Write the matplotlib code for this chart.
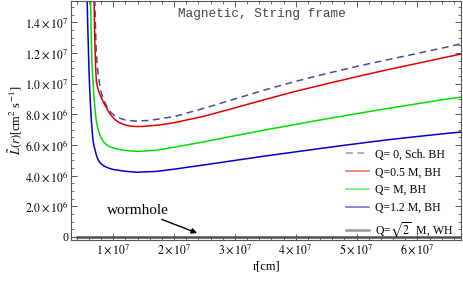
import numpy as np
import matplotlib
matplotlib.use('Agg')
import matplotlib.pyplot as plt
from matplotlib.ticker import MultipleLocator

plt.rcParams['font.family'] = ['Liberation Serif', 'DejaVu Serif']
plt.rcParams['mathtext.fontset'] = 'stix'

# r in units of 1e7 cm, L in units of 1e6 cm^2 s^-1
r_sch = [0.697, 0.705, 0.72, 0.735, 0.75, 0.77, 0.79, 0.82, 0.852, 0.9, 0.967, 1.03,
         1.1, 1.2, 1.35, 1.6, 2.0, 2.5, 3.0, 3.5, 4.0, 4.5, 5.0, 5.5, 6.0, 6.5, 6.72]
L_sch = [15.6, 14.0, 12.2, 11.2, 10.7, 10.1, 9.6, 9.2, 8.85, 8.45, 8.1, 7.88,
         7.75, 7.63, 7.56, 7.6, 7.85, 8.4, 9.0, 9.6, 10.15, 10.65, 11.12, 11.55,
         11.97, 12.4, 12.6]

r_q05 = [0.684, 0.69, 0.70, 0.71, 0.721, 0.74, 0.759, 0.78, 0.80, 0.831, 0.87, 0.92,
         0.967, 1.03, 1.1, 1.2, 1.3, 1.4, 1.5, 1.75, 2.0, 2.5, 3.0, 3.5, 4.0, 4.5,
         5.0, 5.5, 6.0, 6.5, 6.72]
L_q05 = [15.6, 14.0, 12.3, 11.1, 10.2, 9.8, 9.5, 9.3, 9.12, 8.85, 8.55, 8.2,
         7.92, 7.65, 7.45, 7.3, 7.22, 7.2, 7.21, 7.3, 7.45, 7.88, 8.42, 8.97, 9.5,
         9.98, 10.45, 10.9, 11.32, 11.75, 11.93]

r_q1 = [0.628, 0.636, 0.645, 0.655, 0.667, 0.68, 0.70, 0.72, 0.74, 0.76, 0.785,
        0.815, 0.85, 0.9, 0.95, 1.016, 1.1, 1.2, 1.3, 1.41, 1.7, 2.0, 2.5, 3.0,
        3.5, 4.0, 4.5, 5.0, 5.5, 6.0, 6.5, 6.72]
L_q1 = [15.6, 13.6, 12.0, 10.9, 10.1, 9.3, 8.3, 7.6, 7.2, 6.9, 6.6,
        6.35, 6.15, 5.98, 5.87, 5.78, 5.7, 5.64, 5.6, 5.58, 5.65, 5.85, 6.21, 6.6,
        6.98, 7.34, 7.7, 8.04, 8.37, 8.69, 9.0, 9.12]

r_q12 = [0.570, 0.58, 0.59, 0.60, 0.611, 0.625, 0.64, 0.655, 0.667, 0.685, 0.705,
         0.725, 0.749, 0.78, 0.82, 0.87, 0.93, 1.0, 1.18, 1.38, 1.7, 2.0, 2.5, 3.0,
         3.5, 4.0, 4.5, 5.0, 5.5, 6.0, 6.5, 6.72]
L_q12 = [15.6, 13.8, 12.4, 11.0, 9.8, 8.6, 7.6, 6.8, 6.3, 5.9, 5.6,
         5.3, 5.05, 4.85, 4.7, 4.58, 4.48, 4.4, 4.29, 4.22, 4.27, 4.42, 4.70, 4.99,
         5.28, 5.55, 5.82, 6.08, 6.33, 6.55, 6.76, 6.84]

r_wh = [0.41, 6.72]
L_wh = [0.0, 0.0]

labels = ['Q= 0, Sch. BH', 'Q=0.5 M, BH', 'Q= M, BH', 'Q=1.2 M, BH',
          r'Q=$\sqrt{2}$  M, WH']

xticks = [1e7, 2e7, 3e7, 4e7, 5e7, 6e7]
xticklabels = [r'$1\times10^{7}$', r'$2\times10^{7}$', r'$3\times10^{7}$',
               r'$4\times10^{7}$', r'$5\times10^{7}$', r'$6\times10^{7}$']
yticks = [0, 2e6, 4e6, 6e6, 8e6, 1e7, 1.2e7, 1.4e7]
yticklabels = ['0', r'$2.0\times10^{6}$', r'$4.0\times10^{6}$', r'$6.0\times10^{6}$',
               r'$8.0\times10^{6}$', r'$1.0\times10^{7}$', r'$1.2\times10^{7}$',
               r'$1.4\times10^{7}$']

fig = plt.figure(figsize=(4.63, 2.83), dpi=100)
ax = fig.add_axes([0.154, 0.152, 0.842, 0.845])

sc = lambda a, f: np.array(a) * f

ax.plot(sc(r_sch, 1e7), sc(L_sch, 1e6), color='#4a4a9a', lw=1.1,
        dashes=(4.5, 3), label=labels[0])
ax.plot(sc(r_q05, 1e7), sc(L_q05, 1e6), color='#e00000', lw=1.1, label=labels[1])
ax.plot(sc(r_q1, 1e7), sc(L_q1, 1e6), color='#00dd00', lw=1.1, label=labels[2])
ax.plot(sc(r_q12, 1e7), sc(L_q12, 1e6), color='#0000cc', lw=1.1, label=labels[3])
ax.plot(sc(r_wh, 1e7), sc(L_wh, 1e6), color='#505050', lw=1.8, label=labels[4])

ax.set_xlim(0.31e7, 6.72e7)
ax.set_ylim(-0.2e6, 1.54e7)

ax.set_xticks(xticks)
ax.set_xticklabels(xticklabels)
ax.set_yticks(yticks)
ax.set_yticklabels(yticklabels)
ax.xaxis.set_minor_locator(MultipleLocator(2e6))
ax.yaxis.set_minor_locator(MultipleLocator(5e5))
ax.tick_params(which='both', direction='in', top=True, right=True,
               labelsize=8.5, color='#555555', pad=2)
ax.tick_params(which='major', length=4, width=0.7)
ax.tick_params(which='minor', length=2, width=0.6)
for s in ax.spines.values():
    s.set_color('#555555')
    s.set_linewidth(0.8)

ax.set_xlabel('r[cm]', fontsize=9, labelpad=3)
ax.set_ylabel(r'$\tilde{L}(r)$[cm$^2$ s$^{-1}$]', fontsize=9, labelpad=1)

ax.text(2.06e7, 1.455e7, 'Magnetic, String frame', family='Liberation Mono',
        fontsize=9.2, color='#444444', va='center')

ax.annotate('wormhole', xy=(2.38e7, 0.25e6), xytext=(1.4e7, 1.75e6),
            fontsize=11, ha='center', va='center',
            arrowprops=dict(arrowstyle='-|>', color='black', lw=1.0,
                            shrinkA=0, shrinkB=0, mutation_scale=8))

leg = ax.legend(loc='lower right', bbox_to_anchor=(1.0, -0.03), frameon=False,
                fontsize=8.5, handlelength=1.9, handletextpad=0.5,
                labelspacing=0.5, borderaxespad=0.3)
for h in leg.get_lines():
    h.set_alpha(0.6)

fig.savefig('out.png', dpi=100)
